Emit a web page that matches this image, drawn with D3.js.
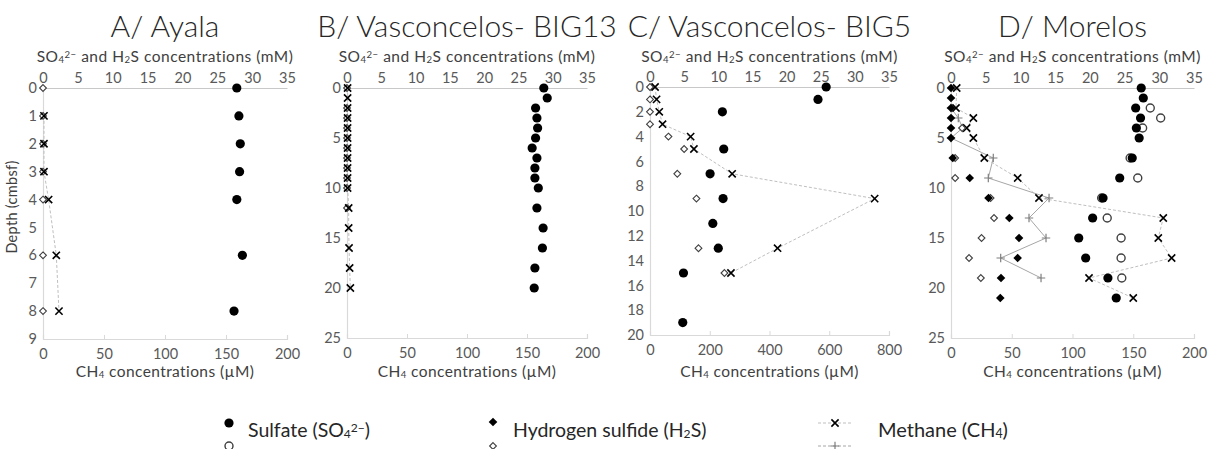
<!DOCTYPE html>
<html>
<head>
<meta charset="utf-8">
<script src="https://cdn.jsdelivr.net/npm/d3@7"></script>
<style>
  html, body { margin: 0; padding: 0; background: #fff; }
  svg { display: block; font-family: Lato, "Open Sans", sans-serif; }
</style>
</head>
<body>
<svg id="chart" width="1215" height="449"></svg>
<script>
// ---- data (depth in cmbsf, SO4/H2S in mM, CH4 in uM) ----
const depthA   = [0, 1, 2, 3, 4, 6, 8];
const sulfateA = [27.8, 28.1, 28.3, 28.2, 27.8, 28.6, 27.4];
const h2sA     = [0, 0, 0, 0, 0, 0, 0];
const methaneA = [null, 0.8, 0.8, 0.8, 4.6, 10.9, 13.1];

const depthB   = [0, 1, 2, 3, 4, 5, 6, 7, 8, 9, 10, 12, 14, 16, 18, 20];
const sulfateB = [28.7, 29.2, 27.5, 27.7, 27.8, 27.5, 27.0, 27.7, 27.4, 27.4, 27.9, 27.7, 28.6, 28.5, 27.4, 27.3];
const h2sB     = [0, null, 0, 0, 0, 0, 0, 0, 0, 0, 0, 0, null, null, null, null];
const methaneB = [0.5, 0.5, 0.5, 0.5, 0.5, 0.5, 0.5, 0.5, 0.5, 0.5, 0.5, 1.4, 1.4, 1.7, 2.2, 2.8];

const depthC   = [0, 1, 2, 3, 4, 5, 7, 9, 11, 13, 15, 19];
const sulfateC = [25.8, 24.6, 10.6, null, null, 10.8, 8.8, 10.7, 9.2, 10.0, 4.9, 4.8];
const h2sC     = [0, 0, 0, 0, 2.7, 5.0, 4.0, 6.8, null, 7.1, 10.9, null];
const methaneC = [17, 22, 31, 42, 136, 147, 275, 752, null, 427, 271, null];

const depthD    = [0, 1, 2, 3, 4, 5, 7, 9, 11, 13, 15, 17, 19, 21];
const sulfateD1 = [27.4, 27.7, 26.6, 27.3, 26.7, 27.1, 26.1, 24.3, 21.9, 20.4, 18.4, 19.4, 22.6, 23.8];
const sulfateD2 = [null, null, 28.7, 30.2, 27.6, null, 25.8, 26.9, 21.7, 22.5, 24.5, 24.5, 24.6, null];
const h2sD1     = [0, 0, 0, 0, 0, 0, 0.25, 2.7, 5.4, 8.4, 9.8, 9.6, 7.2, 7.1];
const h2sD2     = [null, null, null, null, 1.6, null, 0.6, 0.6, 5.7, 6.2, 4.4, 2.6, 4.3, null];
const methaneD1 = [4.7, null, 4.1, 18.4, 12.9, 18.4, 27.4, 54.9, 72.4, 174.7, 170.6, 181.6, 113.6, 150.0];
const methaneD2 = [null, null, 0, 6.0, 9.6, 0, 34.8, 30.7, 80.7, 64.2, 78.2, 40.9, 74.1, null];

const mMTicks   = [0, 5, 10, 15, 20, 25, 30, 35];
const ch4Ticks  = [0, 50, 100, 150, 200];
const ch4TicksC = [0, 200, 400, 600, 800];

const titles = ['A/ Ayala', 'B/ Vasconcelos- BIG13', 'C/ Vasconcelos- BIG5', 'D/ Morelos'];

// rich text pieces: [text, mode]
const topLabel = [['SO', ''], ['4', 'sub'], ['2-', 'sup'], [' and H', ''], ['2', 'sub'], ['S concentrations (mM)', '']];
const bottomLabel = [['CH', ''], ['4', 'sub'], [' concentrations (\u00b5M)', '']];

// ---- layout ----
const panels = [
  { title: titles[0], x0: 43,  x1: 287,  y0: 88, y1: 339, dMax: 9,  dTicks: d3.range(0, 10), cMax: 200, cTicks: ch4Ticks,
    depth: depthA, series: [['h2sOpen', h2sA], ['ch4', methaneA], ['so4', sulfateA]] },
  { title: titles[1], x0: 347, x1: 587,  y0: 88, y1: 338, dMax: 25, dTicks: d3.range(0, 26, 5), cMax: 200, cTicks: ch4Ticks,
    depth: depthB, series: [['h2sOpen', h2sB], ['ch4', methaneB], ['so4', sulfateB]] },
  { title: titles[2], x0: 650, x1: 889,  y0: 87, y1: 335, dMax: 20, dTicks: d3.range(0, 21, 2), cMax: 800, cTicks: ch4TicksC,
    depth: depthC, series: [['h2sOpen', h2sC], ['ch4', methaneC], ['so4', sulfateC]] },
  { title: titles[3], x0: 951, x1: 1194, y0: 88, y1: 338, dMax: 25, dTicks: d3.range(0, 26, 5), cMax: 200, cTicks: ch4Ticks,
    depth: depthD, series: [['ch4b', methaneD2], ['ch4', methaneD1], ['h2sOpen', h2sD2], ['h2s', h2sD1], ['so4Open', sulfateD2], ['so4', sulfateD1]] }
];

const svg = d3.select('#chart');

function rich(text, parts) {
  text.selectAll('tspan').data(parts).join('tspan')
    .text(d => d[1] === 'sup' ? d[0].replace('-', '\u2212') : d[0])
    .attr('font-size', d => d[1] ? '0.62em' : null)
    .attr('baseline-shift', d => d[1] === 'sub' ? '-12%' : d[1] === 'sup' ? '45%' : null);
}

const crossPath   = s => `M${-s},${-s}L${s},${s}M${-s},${s}L${s},${-s}`;
const plusPath    = s => `M${-s},0L${s},0M0,${-s}L0,${s}`;
const diamondPath = s => `M0,${-s}L${s},0L0,${s}L${-s},0Z`;

function drawMarker(g, kind, x, y) {
  if (kind === 'so4') {
    g.append('circle').attr('cx', x).attr('cy', y).attr('r', 4.6).attr('fill', '#000');
  } else if (kind === 'so4Open') {
    g.append('circle').attr('cx', x).attr('cy', y).attr('r', 4).attr('fill', '#fff')
      .attr('stroke', '#404040').attr('stroke-width', 1.4);
  } else if (kind === 'h2s') {
    g.append('path').attr('d', diamondPath(4.3)).attr('transform', `translate(${x},${y})`).attr('fill', '#000');
  } else if (kind === 'h2sOpen') {
    g.append('path').attr('d', diamondPath(3.4)).attr('transform', `translate(${x},${y})`)
      .attr('fill', '#fff').attr('stroke', '#404040').attr('stroke-width', 1.1);
  } else if (kind === 'ch4') {
    g.append('path').attr('d', crossPath(3.6)).attr('transform', `translate(${x},${y})`)
      .attr('stroke', '#000').attr('stroke-width', 1.6).attr('fill', 'none');
  } else if (kind === 'ch4b') {
    g.append('path').attr('d', plusPath(4.2)).attr('transform', `translate(${x},${y})`)
      .attr('stroke', '#7f7f7f').attr('stroke-width', 1.2).attr('fill', 'none');
  }
}

panels.forEach((p, i) => {
  const g = svg.append('g');
  const xMM = d3.scaleLinear().domain([0, 35]).range([p.x0, p.x1]);
  const xCH = d3.scaleLinear().domain([0, p.cMax]).range([p.x0, p.x1]);
  const y = d3.scaleLinear().domain([0, p.dMax]).range([p.y0, p.y1]);
  const cx = (p.x0 + p.x1) / 2;

  // title + axis titles
  g.append('text').attr('x', cx).attr('y', 37).attr('text-anchor', 'middle')
    .attr('font-size', 30).attr('font-weight', 300).attr('fill', '#262626').text(p.title);
  rich(g.append('text').attr('x', cx).attr('y', 62).attr('text-anchor', 'middle')
    .attr('font-size', 15.5).attr('letter-spacing', 0.5).attr('fill', '#404040'), topLabel);
  rich(g.append('text').attr('x', cx).attr('y', 377).attr('text-anchor', 'middle')
    .attr('font-size', 15.5).attr('letter-spacing', 0.4).attr('fill', '#404040'), bottomLabel);

  // axes
  const top = g.append('g').attr('transform', `translate(0,${p.y0})`)
    .call(d3.axisTop(xMM).tickValues(mMTicks).tickSize(0).tickPadding(5));
  const bottom = g.append('g').attr('transform', `translate(0,${p.y1})`)
    .call(d3.axisBottom(xCH).tickValues(p.cTicks).tickSize(-4).tickPadding(10));
  const left = g.append('g').attr('transform', `translate(${p.x0},0)`)
    .call(d3.axisLeft(y).tickValues(p.dTicks).tickSize(0).tickPadding(6));
  [top, bottom, left].forEach(a => {
    a.select('.domain').attr('stroke', '#d9d9d9').attr('stroke-width', 1.2);
    a.selectAll('.tick line').attr('stroke', '#d9d9d9');
    a.selectAll('.tick text').attr('fill', '#595959').attr('font-size', 14.5).attr('font-family', 'Lato, sans-serif');
  });
  top.select('.domain').attr('stroke', '#c8c8c8');

  if (i === 0) {
    g.append('text').attr('transform', `translate(17,207) rotate(-90)`).attr('text-anchor', 'middle')
      .attr('font-size', 14.5).attr('letter-spacing', 0.3).attr('fill', '#404040').text('Depth (cmbsf)');
  }

  // methane lines
  p.series.forEach(([kind, vals]) => {
    if (kind !== 'ch4' && kind !== 'ch4b') return;
    const pts = p.depth.map((d, k) => [vals[k], d]).filter(v => v[0] != null);
    g.append('path').datum(pts)
      .attr('d', d3.line().x(v => xCH(v[0])).y(v => y(v[1])))
      .attr('fill', 'none')
      .attr('stroke', kind === 'ch4' ? '#bfbfbf' : '#a6a6a6')
      .attr('stroke-width', 1)
      .attr('stroke-dasharray', kind === 'ch4' ? '3,2' : null);
  });

  // markers
  p.series.forEach(([kind, vals]) => {
    const sx = kind.startsWith('ch4') ? xCH : xMM;
    p.depth.forEach((d, k) => {
      if (vals[k] == null) return;
      drawMarker(g, kind, sx(vals[k]), y(d));
    });
  });
});

// ---- legend ----
const lg = svg.append('g');
drawMarker(lg, 'so4', 229, 423);
drawMarker(lg, 'so4Open', 229, 446);
rich(lg.append('text').attr('x', 248).attr('y', 437).attr('font-size', 19.5).attr('fill', '#262626'),
  [['Sulfate (SO', ''], ['4', 'sub'], ['2-', 'sup'], [')', '']]);
drawMarker(lg, 'h2s', 493, 422);
drawMarker(lg, 'h2sOpen', 493, 446);
rich(lg.append('text').attr('x', 513).attr('y', 437).attr('font-size', 19.5).attr('fill', '#262626'),
  [['Hydrogen sulfide (H', ''], ['2', 'sub'], ['S)', '']]);
lg.append('line').attr('x1', 818).attr('x2', 852).attr('y1', 423).attr('y2', 423)
  .attr('stroke', '#bfbfbf').attr('stroke-dasharray', '3,2');
lg.append('line').attr('x1', 818).attr('x2', 852).attr('y1', 446).attr('y2', 446)
  .attr('stroke', '#a6a6a6').attr('stroke-dasharray', '3,2');
drawMarker(lg, 'ch4', 835, 423);
drawMarker(lg, 'ch4b', 835, 446);
rich(lg.append('text').attr('x', 878).attr('y', 437).attr('font-size', 20).attr('fill', '#262626'),
  [['Methane (CH', ''], ['4', 'sub'], [')', '']]);
</script>
</body>
</html>
